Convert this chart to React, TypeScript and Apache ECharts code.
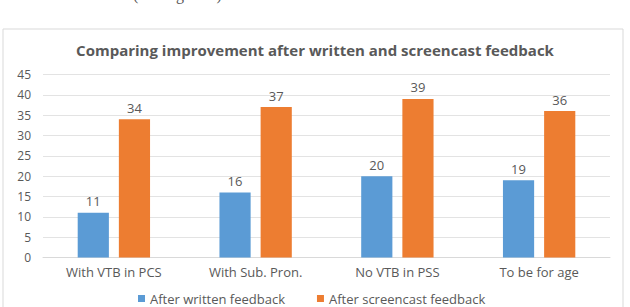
import React, { useEffect, useRef } from "react";
import * as echarts from "echarts";

const titleText = "Comparing improvement after written and screencast feedback";
const categories = ["With VTB in PCS", "With Sub. Pron.", "No VTB in PSS", "To be for age"];
const seriesNames = ["After written feedback", "After screencast feedback"];
const writtenValues = [11, 16, 20, 19];
const screencastValues = [34, 37, 39, 36];
const yMin = 0;
const yMax = 45;
const yInterval = 5;

export default function App() {
  const ref = useRef<HTMLDivElement>(null);
  useEffect(() => {
    document.body.style.margin = "0";
    const chart = echarts.init(ref.current!, null, { renderer: "svg" });
    const textColor = "#595959";
    const labelCommon = {
      show: true,
      position: "top" as const,
      distance: 5,
      color: textColor,
      fontSize: 13,
      fontFamily: "Open Sans",
    };
    chart.setOption({
      animation: false,
      backgroundColor: "#ffffff",
      graphic: [
        {
          type: "rect",
          shape: { x: 3, y: 29, width: 620, height: 290 },
          style: { fill: "#ffffff", stroke: "#d9d9d9", lineWidth: 1 },
          z: -10,
        },
        {
          type: "text",
          x: 133,
          y: -14,
          style: {
            text: "(see Figure 2)",
            font: "16px 'Liberation Serif'",
            fill: "#555555",
            verticalAlign: "top",
            align: "left",
          },
        },
        {
          type: "text",
          x: 315,
          y: 50,
          style: {
            text: titleText,
            font: "bold 15px 'Open Sans'",
            fill: textColor,
            align: "center",
            verticalAlign: "middle",
          },
        },
      ],
      grid: { left: 43, right: 20, top: 74.5, bottom: 49.5, containLabel: false },
      legend: {
        data: seriesNames,
        left: 138,
        top: 291,
        padding: 0,
        itemWidth: 7,
        itemHeight: 7,
        itemGap: 32,
        icon: "rect",
        textStyle: { color: textColor, fontSize: 13, fontFamily: "Open Sans", lineHeight: 15 },
      },
      xAxis: {
        type: "category",
        data: categories,
        axisLine: { show: true, lineStyle: { color: "#d9d9d9" } },
        axisTick: { show: false },
        axisLabel: { color: textColor, fontSize: 13, fontFamily: "Open Sans", margin: 8 },
      },
      yAxis: {
        type: "value",
        min: yMin,
        max: yMax,
        interval: yInterval,
        axisLine: { show: false },
        axisTick: { show: false },
        splitLine: { lineStyle: { color: "#e3e3e3" } },
        axisLabel: { color: textColor, fontSize: 12, fontFamily: "Open Sans", margin: 12 },
      },
      series: [
        {
          name: seriesNames[0],
          type: "bar",
          data: writtenValues,
          barWidth: "22%",
          barGap: "32%",
          itemStyle: { color: "#5b9bd5" },
          label: labelCommon,
        },
        {
          name: seriesNames[1],
          type: "bar",
          data: screencastValues,
          barWidth: "22%",
          barGap: "32%",
          itemStyle: { color: "#ed7d31" },
          label: labelCommon,
        },
      ],
    });
    return () => chart.dispose();
  }, []);
  return (
    <div
      ref={ref}
      style={{ position: "fixed", left: 0, top: 0, width: 630, height: 307 }}
    />
  );
}
